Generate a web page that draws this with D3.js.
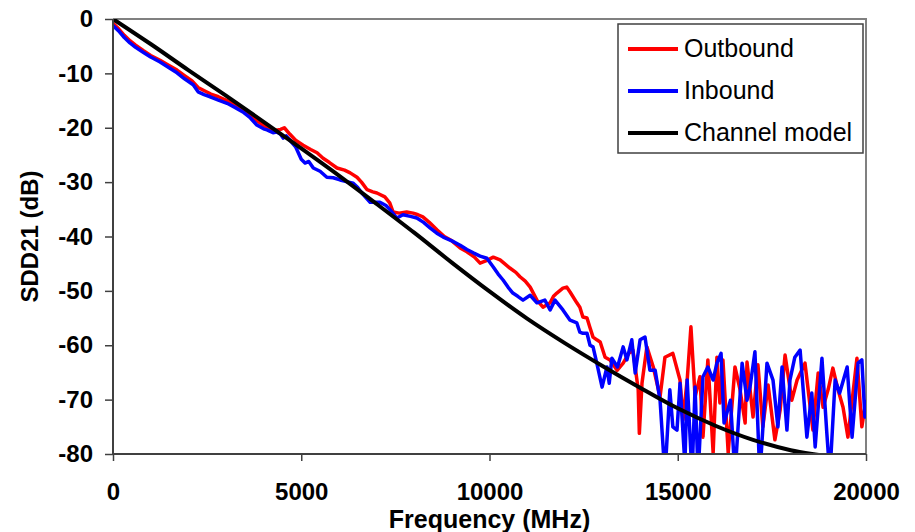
<!DOCTYPE html>
<html>
<head>
<meta charset="utf-8">
<script src="https://cdn.jsdelivr.net/npm/d3@7"></script>
<style>
  body { margin: 0; background: #fff; }
  svg { display: block; font-family: Arial, "Liberation Sans", sans-serif; }
  .axis text { font-size: 24px; font-weight: bold; fill: #000; }
</style>
</head>
<body>
<div id="chart"></div>
<script>
// frequency (MHz) / SDD21 (dB)
var outFreq = [0, 150, 300, 450, 600, 800, 1000, 1250, 1500, 1700, 1900, 2100, 2260, 2400, 2600, 2800, 3030, 3250, 3450, 3650, 3820, 4000, 4150, 4300, 4450, 4550, 4700, 4850, 5050, 5250, 5420, 5580, 5750, 5950, 6150, 6300, 6480, 6600, 6750, 6900, 7010, 7220, 7350, 7440, 7600, 7800, 7970, 8100, 8230, 8400, 8610, 8800, 9000, 9220, 9400, 9600, 9750, 9900, 10100, 10280, 10400, 10540, 10700, 10810, 10950, 11080, 11260, 11420, 11610, 11700, 11790, 11950, 12050, 12140, 12320, 12400, 12480, 12590, 12670, 12750, 12850, 12940, 13070, 13200, 13390, 13550, 13700, 13810, 13950, 13980, 14050, 14180, 14350, 14530, 14660, 14870, 15060, 15140, 15250, 15350, 15460, 15590, 15670, 15800, 15940, 16040, 16120, 16200, 16340, 16520, 16650, 16790, 16840, 17000, 17130, 17260, 17400, 17580, 17720, 17850, 18030, 18170, 18380, 18590, 18730, 18860, 19000, 19120, 19250, 19390, 19520, 19760, 19890, 20000];
var outbound = [-0.8, -1.8, -3.0, -4.0, -4.8, -5.8, -6.7, -7.6, -8.6, -9.4, -10.4, -11.4, -12.6, -13.1, -13.8, -14.3, -15.0, -15.9, -16.6, -17.6, -18.7, -19.6, -20.2, -20.5, -20.3, -20.0, -21.2, -22.3, -23.2, -24.0, -24.6, -25.6, -26.4, -27.4, -27.8, -28.3, -29.1, -30.0, -31.4, -31.8, -32.0, -32.7, -33.8, -35.5, -35.7, -35.5, -35.7, -36.0, -36.4, -37.4, -38.8, -40.0, -40.8, -42.1, -42.8, -43.8, -44.9, -44.5, -43.8, -44.3, -45.0, -45.8, -46.6, -47.4, -48.2, -49.3, -51.7, -53.0, -52.2, -51.0, -50.4, -49.5, -49.3, -50.2, -52.2, -53.0, -54.8, -55.0, -56.8, -58.5, -59.0, -59.4, -62.2, -62.7, -64.6, -63.3, -61.5, -60.9, -68.2, -76.2, -67.0, -60.3, -64.0, -69.5, -62.2, -61.5, -66.4, -73.7, -66.4, -56.6, -69.5, -65.8, -76.9, -62.7, -79.8, -62.2, -70.6, -62.7, -79.8, -64.0, -68.0, -74.3, -63.1, -73.2, -63.6, -75.0, -67.3, -77.4, -71.9, -61.8, -70.1, -66.4, -63.3, -75.6, -65.1, -71.4, -68.0, -64.2, -68.0, -71.4, -76.9, -62.4, -75.0, -70.1];

var inFreq = [0, 150, 300, 450, 600, 800, 1000, 1250, 1500, 1700, 1900, 2130, 2260, 2420, 2580, 2800, 3030, 3250, 3450, 3650, 3820, 4000, 4090, 4250, 4350, 4450, 4520, 4600, 4700, 4850, 5000, 5100, 5200, 5320, 5500, 5680, 5850, 6030, 6200, 6380, 6500, 6610, 6830, 7090, 7250, 7360, 7540, 7700, 7900, 8070, 8250, 8420, 8600, 8770, 9000, 9220, 9400, 9570, 9750, 9930, 10100, 10230, 10360, 10500, 10620, 10750, 10890, 11080, 11260, 11470, 11610, 11740, 11950, 12140, 12320, 12400, 12480, 12590, 12670, 12750, 12850, 12990, 13120, 13180, 13250, 13400, 13550, 13650, 13780, 13870, 14000, 14130, 14260, 14400, 14530, 14660, 14790, 14870, 14980, 15060, 15190, 15250, 15380, 15460, 15540, 15670, 15800, 15940, 16040, 16150, 16230, 16400, 16520, 16710, 16840, 16920, 17050, 17180, 17370, 17530, 17660, 17770, 17900, 17980, 18110, 18250, 18430, 18560, 18650, 18830, 18960, 19040, 19180, 19300, 19500, 19630, 19790, 19890, 19970, 20000];
var inbound = [-1.2, -2.2, -3.4, -4.4, -5.2, -6.1, -7.0, -7.9, -9.0, -9.9, -11.0, -12.1, -13.4, -13.9, -14.3, -14.9, -15.5, -16.3, -17.1, -18.2, -19.5, -20.2, -20.4, -20.9, -20.8, -21.2, -21.9, -21.5, -22.3, -23.5, -25.8, -26.5, -26.2, -27.4, -28.0, -29.1, -29.2, -29.6, -29.9, -30.2, -31.0, -32.0, -33.7, -33.7, -34.3, -35.1, -36.6, -36.0, -36.3, -36.6, -37.4, -38.4, -39.4, -40.1, -40.8, -41.6, -42.4, -43.0, -43.6, -44.0, -45.6, -46.9, -48.0, -49.4, -50.4, -51.0, -51.7, -50.8, -52.2, -51.7, -53.5, -51.7, -53.5, -55.4, -55.9, -57.6, -57.8, -57.8, -60.0, -60.3, -63.3, -67.7, -64.0, -67.0, -62.4, -64.0, -60.3, -62.7, -59.0, -65.1, -59.0, -58.5, -64.6, -64.6, -70.1, -84.0, -68.2, -75.0, -75.6, -67.0, -82.0, -66.4, -84.0, -67.7, -84.0, -65.8, -64.0, -66.4, -63.3, -61.5, -74.3, -70.1, -84.0, -63.3, -70.1, -67.7, -61.2, -84.0, -63.3, -66.4, -75.0, -64.0, -75.6, -66.4, -62.2, -60.9, -76.9, -68.8, -78.7, -62.4, -76.2, -84.0, -66.4, -68.8, -64.0, -76.9, -63.3, -62.7, -73.2, -70.0];

var modelFreq = [0, 1000, 2000, 3000, 4000, 5000, 6000, 7000, 8000, 9000, 10000, 11000, 12000, 13000, 14000, 15000, 16000, 17000, 18000, 19000, 20000];
var model = [0, -4.6, -9.4, -14.1, -18.9, -23.8, -28.8, -34.0, -39.3, -44.8, -50.1, -55.1, -59.6, -63.8, -67.8, -71.6, -74.8, -77.4, -79.3, -80.5, -82.0];

var xTicks = [0, 5000, 10000, 15000, 20000];
var yTicks = [0, -10, -20, -30, -40, -50, -60, -70, -80];

var seriesNames = ["Outbound", "Inbound", "Channel model"];
var seriesColors = ["#ff0000", "#0000ff", "#000000"];

var widthSvg = 915,
    heightSvg = 532;

var margin = { top: 19, right: 49, bottom: 78, left: 113 },
    width = widthSvg - margin.left - margin.right,
    height = heightSvg - margin.top - margin.bottom;

var svg = d3.select("#chart").append("svg")
    .attr("width", widthSvg)
    .attr("height", heightSvg);

var g = svg.append("g")
    .attr("transform", "translate(" + margin.left + "," + margin.top + ")");

var xScale = d3.scaleLinear().domain([0, 20000]).range([0, width]);
var yScale = d3.scaleLinear().domain([-80, 0]).range([height, 0]);

svg.append("defs").append("clipPath").attr("id", "plot")
    .append("rect").attr("width", width).attr("height", height);

// top and right frame
g.append("path")
    .attr("d", "M0,0H" + width + "V" + height)
    .attr("fill", "none")
    .attr("stroke", "#808080")
    .attr("stroke-width", 2);

var line = d3.line()
    .x(function (d) { return xScale(d[0]); })
    .y(function (d) { return yScale(d[1]); });

var series = [
    d3.zip(outFreq, outbound),
    d3.zip(inFreq, inbound),
    d3.zip(modelFreq, model)
];

var lines = g.append("g").attr("clip-path", "url(#plot)");
lines.append("path")
    .datum(series[0])
    .attr("d", line.curve(d3.curveLinear))
    .attr("fill", "none")
    .attr("stroke", seriesColors[0])
    .attr("stroke-width", 3.5)
    .attr("stroke-linejoin", "round");
lines.append("path")
    .datum(series[1])
    .attr("d", line.curve(d3.curveLinear))
    .attr("fill", "none")
    .attr("stroke", seriesColors[1])
    .attr("stroke-width", 3.5)
    .attr("stroke-linejoin", "round");
lines.append("path")
    .datum(series[2])
    .attr("d", line.curve(d3.curveMonotoneX))
    .attr("fill", "none")
    .attr("stroke", seriesColors[2])
    .attr("stroke-width", 4);

// plain labels: hyphen minus, no thousands separator
var plain = function (d) { return String(d); };

var yAxis = g.append("g")
    .attr("class", "axis")
    .call(d3.axisLeft(yScale).tickValues(yTicks).tickFormat(plain).tickSize(8).tickPadding(12));
var xAxis = g.append("g")
    .attr("class", "axis")
    .attr("transform", "translate(0," + height + ")")
    .call(d3.axisBottom(xScale).tickValues(xTicks).tickFormat(plain).tickSize(7).tickPadding(22));

g.selectAll(".axis .domain").attr("stroke", "#404040").attr("stroke-width", 2);
g.selectAll(".axis .tick line").attr("stroke", "#404040").attr("stroke-width", 1.5);
xAxis.select(".domain").attr("d", "M0,0H" + width);
yAxis.select(".domain").attr("d", "M0,0V" + height);

// axis titles
svg.append("text")
    .attr("x", margin.left + width / 2)
    .attr("y", 528)
    .attr("text-anchor", "middle")
    .attr("font-size", 25)
    .attr("font-weight", "bold")
    .text("Frequency (MHz)");

svg.append("text")
    .attr("transform", "translate(38," + (margin.top + height / 2) + ") rotate(-90)")
    .attr("text-anchor", "middle")
    .attr("font-size", 24)
    .attr("font-weight", "bold")
    .text("SDD21 (dB)");

// legend
var legend = svg.append("g").attr("transform", "translate(618,24)");
legend.append("rect")
    .attr("width", 245)
    .attr("height", 129)
    .attr("fill", "#fff")
    .attr("stroke", "#404040")
    .attr("stroke-width", 1.5);

var item = legend.selectAll("g.item")
    .data(seriesNames)
    .enter().append("g")
    .attr("class", "item")
    .attr("transform", function (d, i) { return "translate(0," + (25 + i * 42) + ")"; });

item.append("line")
    .attr("x1", 10).attr("x2", 60)
    .attr("stroke", function (d, i) { return seriesColors[i]; })
    .attr("stroke-width", 4);

item.append("text")
    .attr("x", 66)
    .attr("dy", "0.3em")
    .attr("font-size", 25)
    .text(function (d) { return d; });
</script>
</body>
</html>
